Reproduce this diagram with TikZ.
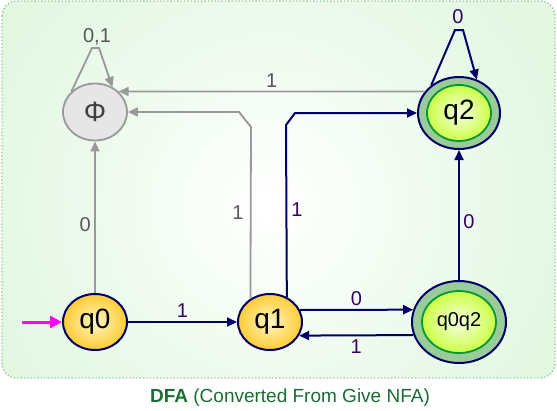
\documentclass[tikz,border=0pt]{standalone}
\usepackage{fontspec}
\setmainfont{Liberation Sans}
\usetikzlibrary{shapes.geometric,arrows.meta}

\definecolor{navy}{HTML}{000066}
\definecolor{edgegray}{HTML}{999999}
\definecolor{labelpurple}{HTML}{330066}
\definecolor{labelgray}{HTML}{555555}
\definecolor{bggreen}{HTML}{E3F7E3}
\definecolor{bgborder}{HTML}{99CC99}
\definecolor{stateyellow}{HTML}{FFCC33}
\definecolor{statelight}{HTML}{FFF4C4}
\definecolor{ringgreen}{HTML}{99CC99}
\definecolor{acceptlime}{HTML}{CCFF44}
\definecolor{acceptlight}{HTML}{F6FFE4}
\definecolor{acceptborder}{HTML}{009933}
\definecolor{deadfill}{HTML}{E6E6E6}
\definecolor{captiongreen}{HTML}{1A6E33}
\definecolor{startpink}{HTML}{FF00FF}

\begin{document}
\begin{tikzpicture}[x=1pt,y=-1pt,
    statefont/.style={font=\fontsize{28}{28}\selectfont},
    state/.style={ellipse,draw=navy,line width=2pt,inner sep=0pt,
        inner color=statelight,outer color=stateyellow,
        minimum width=64pt,minimum height=56pt,statefont},
    ring/.style={ellipse,draw=navy,line width=2pt,fill=ringgreen,inner sep=0pt},
    accept/.style={ellipse,draw=acceptborder,line width=1.8pt,inner sep=0pt,
        inner color=acceptlight,outer color=acceptlime},
    dead/.style={ellipse,draw=edgegray,line width=1.8pt,fill=deadfill,inner sep=0pt,
        minimum width=64pt,minimum height=57pt,statefont,text=black!75},
    navyedge/.style={draw=navy,line width=2pt,-{Triangle[length=10pt,width=9pt]}},
    grayedge/.style={draw=edgegray,line width=1.8pt,-{Triangle[length=10pt,width=9pt]}},
    navylabel/.style={text=labelpurple,font=\fontsize{20}{20}\selectfont},
    graylabel/.style={text=labelgray,font=\fontsize{20}{20}\selectfont}]

    \useasboundingbox (0,0) rectangle (557,410);
    \begin{scope}
        \clip[rounded corners=15pt] (2,1) rectangle (555,378);
        \fill[bggreen] (2,1) rectangle (555,378);
        \shade[inner color=white,outer color=bggreen] (270,205) circle (300);
    \end{scope}
    \draw[bgborder,line width=1.4pt,dotted,rounded corners=15pt]
        (2,1) rectangle (555,378);

    \node[dead] (phi) at (95,112) {Φ};
    \node[ring,minimum width=82pt,minimum height=72pt] (q2) at (459,113) {};
    \node[accept,minimum width=64pt,minimum height=56pt,statefont] (q2in) at (q2) {q2};
    \node[state] (q0) at (95,322) {q0};
    \node[state] (q1) at (270,322) {q1};
    \node[ring,minimum width=94pt,minimum height=82pt] (q0q2) at (459,322) {};
    \node[accept,minimum width=74pt,minimum height=62pt,
        font=\fontsize{20}{20}\selectfont] (q0q2in) at (q0q2) {q0q2};
    \coordinate (start) at (22,322);

    \draw[startpink,line width=3pt,-{Triangle[length=12pt,width=12pt]}] (start) -- (q0);
    \draw[navyedge] (q0) -- node[navylabel,above] {1} (q1);
    \draw[grayedge] (q0) -- node[graylabel,left,pos=0.45] {0} (phi);
    \draw[grayedge] (q1.130) -- (251,127) -- (239,112) -- (phi);
    \node[graylabel] (lbla) at (238,213) {1};
    \draw[navyedge] (q1.56) -- (286,125) -- (295,113) -- (q2);
    \node[navylabel] (lblb) at (297,210) {1};
    \draw[grayedge] (q2.148) -- node[graylabel,above,pos=0.5] {1} (phi.41);
    \draw[grayedge] (phi.139) -- (92,48) -- (99,48) -- (phi.55);
    \node[graylabel] (lblc) at (97,37) {0,1};
    \draw[navyedge] (q2.135) -- (455,30) -- (463,30) -- (q2.62);
    \node[navylabel] (lbld) at (458,17) {0};
    \draw[navyedge] (q1.22.5) -- node[navylabel,above] {0} (q0q2.165);
    \draw[navyedge] (q0q2.196) -- node[navylabel,below] {1} (q1.335);
    \draw[navyedge] (q0q2) -- node[navylabel,right,pos=0.45] {0} (q2);

    \node[text=captiongreen,font=\fontsize{19}{19}\selectfont] (caption) at (290,398)
        {\textbf{DFA} (Converted From Give NFA)};
\end{tikzpicture}
\end{document}
